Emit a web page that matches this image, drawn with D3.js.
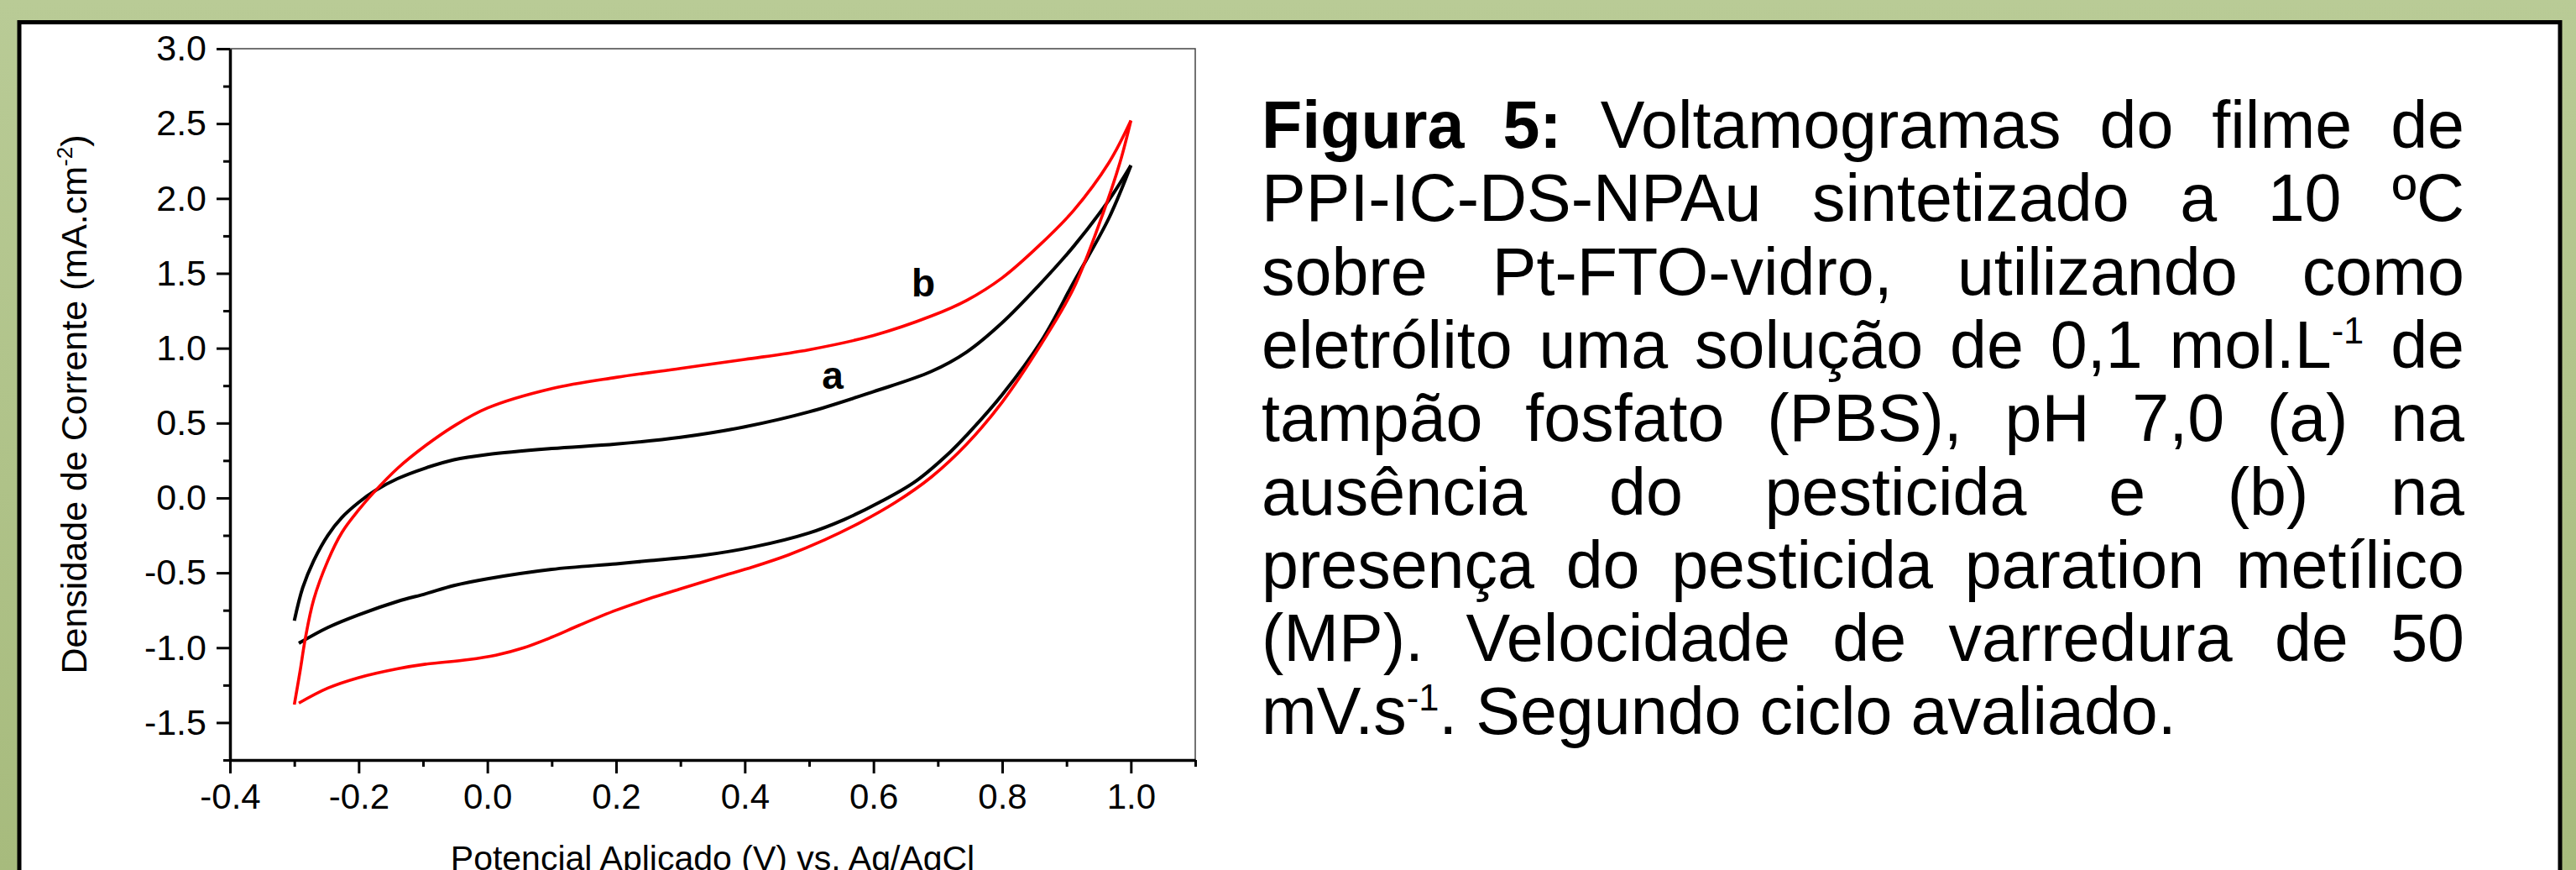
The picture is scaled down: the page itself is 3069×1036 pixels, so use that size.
<!DOCTYPE html>
<html><head><meta charset="utf-8">
<script src="https://cdn.jsdelivr.net/npm/d3@7"></script>
<style>html,body{margin:0;padding:0;overflow:hidden;background:#b7c993}</style>
</head><body>
<svg id="c" width="3069" height="1036"></svg>
<script>
// ---------- data ----------
const xTicks = [-0.4, -0.2, 0.0, 0.2, 0.4, 0.6, 0.8, 1.0];
const xTickLabels = ["-0.4", "-0.2", "0.0", "0.2", "0.4", "0.6", "0.8", "1.0"];
const xMinorTicks = [-0.3, -0.1, 0.1, 0.3, 0.5, 0.7, 0.9, 1.1];
const yTicks = [3.0, 2.5, 2.0, 1.5, 1.0, 0.5, 0.0, -0.5, -1.0, -1.5];
const yTickLabels = ["3.0", "2.5", "2.0", "1.5", "1.0", "0.5", "0.0", "-0.5", "-1.0", "-1.5"];
const yMinorTicks = [2.75, 2.25, 1.75, 1.25, 0.75, 0.25, -0.25, -0.75, -1.25, -1.75];

// curve a (black): forward (anodic) scan and reverse scan
const aForward = [[-0.300,-0.82],[-0.287,-0.60],[-0.270,-0.42],[-0.248,-0.25],[-0.226,-0.13],[-0.200,-0.03],
  [-0.174,0.05],[-0.139,0.13],[-0.096,0.20],[-0.052,0.255],[0.0,0.29],[0.1,0.33],[0.2,0.36],[0.3,0.405],
  [0.4,0.475],[0.5,0.575],[0.6,0.71],[0.690,0.845],[0.745,0.975],[0.800,1.17],
  [0.856,1.415],[0.911,1.68],[0.966,1.99],[1.0,2.22]];
const aReverse = [[1.0,2.22],[0.966,1.87],[0.911,1.44],[0.861,1.05],[0.800,0.69],[0.745,0.42],[0.720,0.31],
  [0.665,0.11],[0.609,-0.03],[0.554,-0.145],[0.499,-0.235],[0.416,-0.325],[0.333,-0.385],[0.25,-0.42],
  [0.2,-0.44],[0.1,-0.477],[0.0,-0.54],[-0.052,-0.585],[-0.096,-0.64],[-0.139,-0.69],[-0.2,-0.78],
  [-0.248,-0.865],[-0.293,-0.97]];
// curve b (red)
const bForward = [[-0.300,-1.38],[-0.291,-1.155],[-0.283,-0.94],[-0.270,-0.68],[-0.248,-0.42],[-0.226,-0.23],
  [-0.200,-0.08],[-0.178,0.03],[-0.139,0.20],[-0.096,0.35],[-0.052,0.48],[0.0,0.60],[0.1,0.73],[0.2,0.805],
  [0.3,0.865],[0.4,0.925],[0.5,0.99],[0.6,1.085],[0.690,1.215],[0.745,1.32],[0.800,1.47],
  [0.856,1.68],[0.911,1.92],[0.966,2.24],[1.0,2.52]];
const bReverse = [[1.0,2.52],[0.983,2.24],[0.955,1.88],[0.911,1.40],[0.861,1.03],[0.800,0.64],
  [0.745,0.36],[0.690,0.14],[0.634,-0.03],[0.579,-0.165],[0.524,-0.28],[0.468,-0.38],[0.413,-0.46],
  [0.358,-0.53],[0.302,-0.605],[0.25,-0.675],[0.2,-0.75],[0.143,-0.85],[0.1,-0.93],[0.057,-1.0],
  [0.013,-1.05],[-0.03,-1.08],[-0.096,-1.11],[-0.139,-1.14],[-0.2,-1.20],[-0.248,-1.27],[-0.293,-1.37]];

const seriesLabels = ["a", "b"];
const seriesLabelAt = [[0.5365, 0.73], [0.6774, 1.348]];

const xTitle = "Potencial Aplicado (V) vs. Ag/AgCl";
const yTitleMain = "Densidade de Corrente (mA.cm";
const yTitleSup = "-2";
const yTitleEnd = ")";

const captionLines = [
  "*Figura* *5:* Voltamogramas do filme de",
  "PPI-IC-DS-NPAu sintetizado a 10 ºC",
  "sobre Pt-FTO-vidro, utilizando como",
  "eletrólito uma solução de 0,1 mol.L^-1 de",
  "tampão fosfato (PBS), pH 7,0 (a) na",
  "ausência do pesticida e (b) na",
  "presença do pesticida paration metílico",
  "(MP). Velocidade de varredura de 50",
  "mV.s^-1. Segundo ciclo avaliado."
];

// ---------- drawing ----------
const W = 3069, H = 1036;
const FONT = "'Liberation Sans', Arial, Helvetica, sans-serif";
const svg = d3.select("#c");
const defs = svg.append("defs");
const grad = defs.append("linearGradient").attr("id","bg").attr("x1",0).attr("y1",0).attr("x2",0).attr("y2",1);
grad.append("stop").attr("offset","0%").attr("stop-color","#b9cb96");
grad.append("stop").attr("offset","100%").attr("stop-color","#a7bb7d");
svg.append("rect").attr("width",W).attr("height",H).attr("fill","url(#bg)");
// white framed panel
svg.append("rect").attr("x",23).attr("y",26.5).attr("width",3027).attr("height",1100)
  .attr("fill","#fff").attr("stroke","#000").attr("stroke-width",5);

const x = d3.scaleLinear().domain([-0.4, 1.1]).range([274, 1424]);
const y = d3.scaleLinear().domain([-1.75, 3.0]).range([905, 58]);

// plot box (top & right thin)
svg.append("path").attr("d", `M${x(-0.4)},${y(3.0)}H${x(1.1)}V${y(-1.75)}`)
  .attr("fill","none").attr("stroke","#444").attr("stroke-width",1.5);

function styleAxis(g, fs) {
  g.attr("font-family", FONT).attr("font-size", fs);
  g.selectAll(".tick line").attr("stroke","#000").attr("stroke-width",3);
  g.selectAll(".tick text").attr("fill","#000");
}
// minor ticks
const gxm = svg.append("g").attr("transform",`translate(0,${y(-1.75)})`)
  .call(d3.axisBottom(x).tickValues(xMinorTicks).tickFormat("").tickSize(8).tickSizeOuter(0));
gxm.select(".domain").remove(); styleAxis(gxm, 42);
const gym = svg.append("g").attr("transform",`translate(${x(-0.4)},0)`)
  .call(d3.axisLeft(y).tickValues(yMinorTicks).tickFormat("").tickSize(8).tickSizeOuter(0));
gym.select(".domain").remove(); styleAxis(gym, 42);
// major
const gx = svg.append("g").attr("transform",`translate(0,${y(-1.75)})`)
  .call(d3.axisBottom(x).tickValues(xTicks).tickFormat((d,i)=>xTickLabels[i]).tickSize(16).tickSizeOuter(0).tickPadding(12));
styleAxis(gx, 42);
gx.select(".domain").attr("stroke","#000").attr("stroke-width",3.5);
const gy = svg.append("g").attr("transform",`translate(${x(-0.4)},0)`)
  .call(d3.axisLeft(y).tickValues(yTicks).tickFormat((d,i)=>yTickLabels[i]).tickSize(16).tickSizeOuter(0).tickPadding(12));
styleAxis(gy, 43);
gy.select(".domain").attr("stroke","#000").attr("stroke-width",3.5);

// curves
const line = d3.line().x(d=>x(d[0])).y(d=>y(d[1])).curve(d3.curveCatmullRom.alpha(0.5));
const curves = [
  {data:aForward, color:"#000000", w:4},
  {data:aReverse, color:"#000000", w:4},
  {data:bForward, color:"#ff0000", w:3.6},
  {data:bReverse, color:"#ff0000", w:3.6}
];
svg.append("g").selectAll("path").data(curves).join("path")
  .attr("d", d=>line(d.data)).attr("fill","none")
  .attr("stroke", d=>d.color).attr("stroke-width", d=>d.w)
  .attr("stroke-linejoin","round").attr("stroke-linecap","butt");

// series labels
svg.append("g").selectAll("text").data(seriesLabels).join("text")
  .attr("x",(d,i)=>x(seriesLabelAt[i][0])).attr("y",(d,i)=>y(seriesLabelAt[i][1]))
  .attr("text-anchor","middle").attr("font-family",FONT).attr("font-weight","bold")
  .attr("font-size",46).attr("fill","#000").text(d=>d);

// axis titles
svg.append("text").attr("x",(x(-0.4)+x(1.1))/2).attr("y",1036).attr("text-anchor","middle")
  .attr("font-family",FONT).attr("font-size",41).attr("fill","#000").text(xTitle);
const yt = svg.append("text").attr("transform",`translate(103,${(y(3.0)+y(-1.75))/2}) rotate(-90)`)
  .attr("text-anchor","middle").attr("font-family",FONT).attr("font-size",43).attr("fill","#000");
yt.append("tspan").text(yTitleMain);
yt.append("tspan").attr("font-size",26).attr("dy",-17).text(yTitleSup);
yt.append("tspan").attr("dy",17).text(yTitleEnd);

// caption (justified)
const capLeft = 1503, capRight = 2936, capBase0 = 176, capStep = 87.3, capFS = 79;
const capG = svg.append("g").attr("font-family",FONT).attr("font-size",capFS).attr("fill","#000");
function parseWord(w) {
  let bold = false;
  if (w.startsWith("*") && w.endsWith("*")) { bold = true; w = w.slice(1,-1); }
  const segs = [];
  const parts = w.split(/\^(-?\d+)/);
  parts.forEach((p,k) => { if (p) segs.push({t:p, sup: k%2===1, bold}); });
  return segs;
}
captionLines.forEach((ln, li) => {
  const words = ln.split(" ");
  const by = capBase0 + li*capStep;
  const nodes = words.map(w => {
    const t = capG.append("text").attr("y", by);
    let up = false;
    parseWord(w).forEach(s => {
      const ts = t.append("tspan").text(s.t);
      if (s.bold) ts.attr("font-weight","bold");
      if (s.sup) { ts.attr("font-size", capFS*0.55).attr("dy", -capFS*0.36); up = true; }
      else if (up) { ts.attr("dy", capFS*0.36); up = false; }
    });
    return t;
  });
  const widths = nodes.map(n => n.node().getComputedTextLength());
  const total = d3.sum(widths);
  const last = li === captionLines.length - 1;
  const gap = last ? capFS*0.278 : (capRight - capLeft - total) / (words.length - 1);
  let cx = capLeft;
  nodes.forEach((n,i) => { n.attr("x", cx); cx += widths[i] + gap; });
});
</script>
</body></html>
